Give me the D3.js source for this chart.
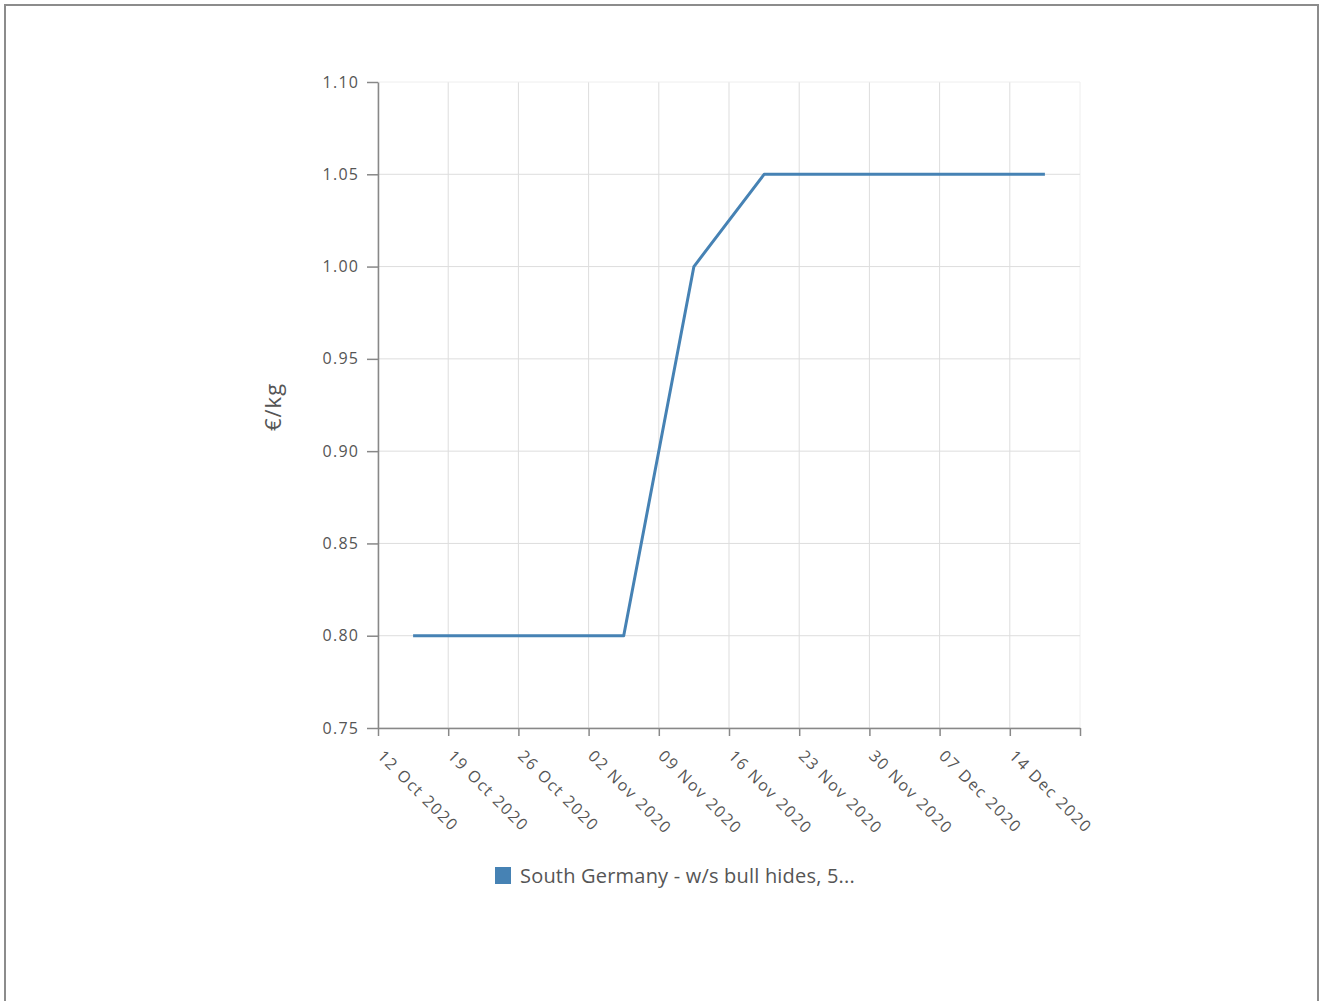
<!DOCTYPE html>
<html><head><meta charset="utf-8">
<script src="https://cdn.jsdelivr.net/npm/d3@7"></script>
<style>
html,body{margin:0;padding:0;background:#fff;}
svg{display:block;font-family:"Open Sans","Noto Sans",sans-serif;}
</style></head>
<body>
<svg id="c" width="1321" height="1001"></svg>
<script>
const dates = ["2020-10-15T12:00Z","2020-10-22T12:00Z","2020-10-29T12:00Z","2020-11-05T12:00Z","2020-11-12T12:00Z","2020-11-19T12:00Z","2020-11-26T12:00Z","2020-12-03T12:00Z","2020-12-10T12:00Z","2020-12-17T12:00Z"];
const values = [0.80,0.80,0.80,0.80,1.00,1.05,1.05,1.05,1.05,1.05];
const yTicks = [0.75,0.80,0.85,0.90,0.95,1.00,1.05,1.10];
const xTicks = ["2020-10-12","2020-10-19","2020-10-26","2020-11-02","2020-11-09","2020-11-16","2020-11-23","2020-11-30","2020-12-07","2020-12-14","2020-12-21"];
const seriesName = "South Germany - w/s bull hides, 5...";
const yTitle = "€/kg";

const svg = d3.select("#c");
svg.append("rect").attr("x",5).attr("y",5).attr("width",1313).attr("height",1010)
  .attr("fill","none").attr("stroke","#8c8c8c").attr("stroke-width",2);

const L=378,R=1080,T=82,B=728;
const x = d3.scaleUtc().domain([new Date(xTicks[0]+"T00:00Z"), new Date(xTicks[xTicks.length-1]+"T00:00Z")]).range([L,R]);
const y = d3.scaleLinear().domain([0.75,1.10]).range([B,T]);
const xt = xTicks.map(d=>new Date(d+"T00:00Z"));
const fmt = d3.utcFormat("%d %b %Y");
const FONT = "'Open Sans','Noto Sans',sans-serif";

// grid
const g = svg.append("g");
g.selectAll(".vg").data(xt).join("line").attr("x1",d=>x(d)).attr("x2",d=>x(d)).attr("y1",T).attr("y2",B)
  .attr("stroke",(d,i)=>i===xt.length-1?"#eeeeee":"#dddddd").attr("stroke-width",1);
g.selectAll(".hg").data(yTicks).join("line").attr("x1",L).attr("x2",R).attr("y1",d=>y(d)).attr("y2",d=>y(d))
  .attr("stroke",(d,i)=>i===yTicks.length-1?"#eeeeee":"#dddddd").attr("stroke-width",1);

// y axis
const ya = svg.append("g").attr("transform",`translate(${L},0)`)
  .call(d3.axisLeft(y).tickValues(yTicks).tickFormat(d3.format(".2f")).tickSize(11).tickPadding(9).tickSizeOuter(0));
ya.select(".domain").attr("stroke","#888").attr("stroke-width",1.5);
ya.selectAll(".tick line").attr("stroke","#888").attr("stroke-width",1.5);
ya.selectAll(".tick text").attr("fill","#555").style("font-size","16px").style("font-family",FONT)
  .style("letter-spacing","1.3px").attr("dx","1.3px");

// x axis
const xa = svg.append("g").attr("transform",`translate(0,${B})`)
  .call(d3.axisBottom(x).tickValues(xt).tickFormat((d,i)=>i===xt.length-1?"":fmt(d)).tickSize(8).tickSizeOuter(0));
xa.select(".domain").attr("stroke","#888").attr("stroke-width",1.5);
xa.selectAll(".tick line").attr("stroke","#888").attr("stroke-width",1.5);
xa.selectAll(".tick text").attr("fill","#555").style("font-size","16px").style("font-family",FONT)
  .style("letter-spacing","1.6px")
  .attr("text-anchor","start").attr("dy",null).attr("y",null)
  .attr("transform","translate(-2,29) rotate(45)");

// line
const line = d3.line().x((d,i)=>x(new Date(dates[i]))).y(d=>y(d));
svg.append("path").datum(values).attr("d",line).attr("fill","none").attr("stroke","#4682b4").attr("stroke-width",3).attr("stroke-linejoin","round");

// y title
svg.append("text").attr("transform",`translate(281,${(T+B)/2 + 2}) rotate(-90)`).attr("text-anchor","middle")
  .attr("fill","#555").style("font-size","22px").style("letter-spacing","1px").text(yTitle);

// legend
const lg = svg.append("g").attr("transform","translate(495,867)");
lg.append("rect").attr("width",16).attr("height",17).attr("fill","#4682b4");
lg.append("text").attr("x",25).attr("y",16).attr("fill","#555").style("font-size","20px").style("letter-spacing","0.2px").text(seriesName);
</script>
</body></html>
